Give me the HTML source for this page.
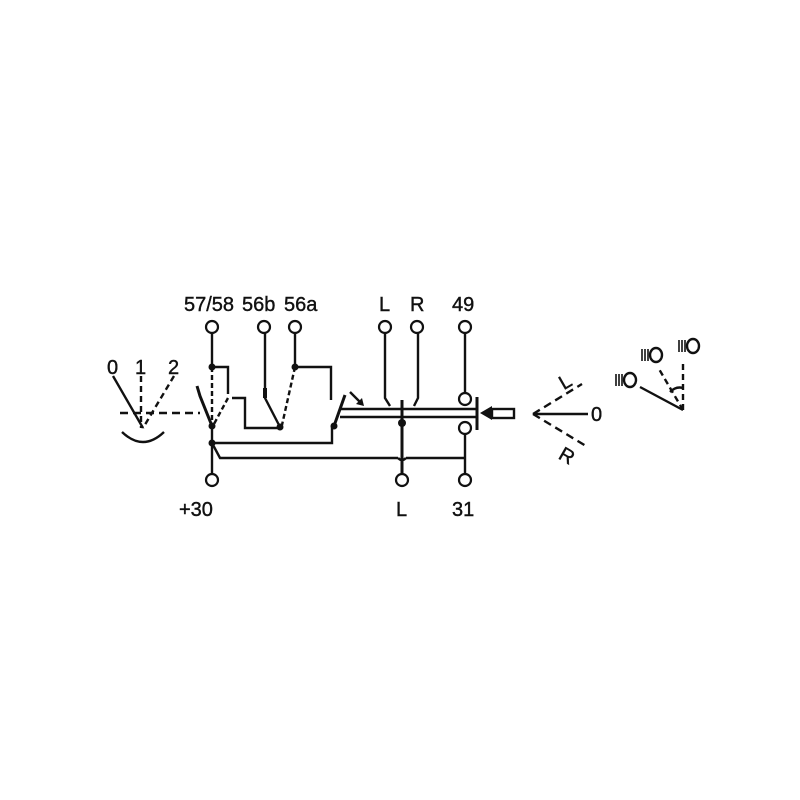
<!DOCTYPE html>
<html><head><meta charset="utf-8"><style>body{margin:0;background:#fff}svg{display:block}text{font-family:"Liberation Sans",sans-serif;fill:#111;stroke:#111;stroke-width:0.4}</style></head><body>
<svg width="800" height="800" viewBox="0 0 800 800" xmlns="http://www.w3.org/2000/svg">
<g stroke="#111" stroke-width="2.4" fill="none">
<line x1="113" y1="376" x2="143" y2="428"/>
<line x1="141" y1="376" x2="141" y2="428" stroke-dasharray="6,4"/>
<line x1="174" y1="376" x2="143" y2="428" stroke-dasharray="6,4"/>
<line x1="120" y1="413" x2="200" y2="413" stroke-dasharray="8,5"/>
<path d="M122 432 Q143 452 164 432"/>
<line x1="212" y1="333" x2="212" y2="367"/>
<line x1="212" y1="367" x2="212" y2="425" stroke-dasharray="5,3"/>
<polyline points="212,367 228,367 228,394"/>
<line x1="228" y1="398" x2="214" y2="424" stroke-dasharray="5,3"/>
<polyline points="197,386 200,396 212,426" stroke-width="3"/>
<polyline points="232,398 245,398 245,428 280,428"/>
<polyline points="265,333 265,398 280,427"/>
<line x1="265" y1="388" x2="265" y2="398" stroke-width="4"/>
<line x1="295" y1="333" x2="295" y2="367"/>
<line x1="295" y1="367" x2="282" y2="425" stroke-dasharray="5,3"/>
<polyline points="295,367 331,367 331,400"/>
<line x1="334" y1="426" x2="345" y2="395" stroke-width="3"/>
<line x1="350" y1="392" x2="361" y2="403"/>
<polyline points="212,443 332,443 332,426"/>
<line x1="212" y1="426" x2="212" y2="475"/>
<polyline points="212,443 220,458 398,458"/>
<path d="M398 458 q4 4 8 0"/>
<polyline points="406,458 465,458"/>
<line x1="340" y1="409" x2="477" y2="409"/>
<line x1="340" y1="417" x2="477" y2="417"/>
<polyline points="385,333 385,398 390,406"/>
<polyline points="418,333 418,398 414,406"/>
<line x1="402" y1="400" x2="402" y2="475" stroke-width="3"/>
<line x1="465" y1="333" x2="465" y2="393"/>
<line x1="465" y1="434" x2="465" y2="474"/>
<line x1="477" y1="397" x2="477" y2="430" stroke-width="3"/>
<rect x="492" y="409" width="22" height="9"/>
<line x1="533" y1="414" x2="588" y2="414"/>
<line x1="533" y1="414" x2="582" y2="384" stroke-dasharray="8,5"/>
<line x1="533" y1="414" x2="586" y2="446" stroke-dasharray="8,5"/>
<line x1="683" y1="410" x2="640" y2="387"/>
<line x1="683" y1="410" x2="659" y2="369" stroke-dasharray="6,4"/>
<line x1="683" y1="410" x2="683" y2="363" stroke-dasharray="6,4"/>
<path d="M670 392 q6 -6 13 -4"/>
<ellipse cx="630" cy="380" rx="6" ry="7"/>
<ellipse cx="656" cy="355" rx="6" ry="7"/>
<ellipse cx="693" cy="346" rx="6" ry="7"/>
</g>
<g stroke="#111" stroke-width="1.6">
<path d="M616 374v12M619 374v12M622 374v12"/>
<path d="M642 349v12M645 349v12M648 349v12"/>
<path d="M679 340v12M682 340v12M685 340v12"/>
</g>
<polygon points="480,413 492,406 492,420" fill="#111"/>
<polygon points="364,406 356,404 362,398" fill="#111"/>
<g fill="#111">
<circle cx="212" cy="367" r="3.5"/><circle cx="212" cy="426" r="3.5"/><circle cx="212" cy="443" r="3.5"/>
<circle cx="280" cy="427" r="3.5"/><circle cx="295" cy="367" r="3.5"/><circle cx="334" cy="426" r="3.5"/>
<circle cx="402" cy="423" r="4"/>
</g>
<g fill="#fff" stroke="#111" stroke-width="2.2">
<circle cx="212" cy="327" r="6"/><circle cx="264" cy="327" r="6"/><circle cx="295" cy="327" r="6"/>
<circle cx="385" cy="327" r="6"/><circle cx="417" cy="327" r="6"/><circle cx="465" cy="327" r="6"/>
<circle cx="465" cy="399" r="6"/><circle cx="465" cy="428" r="6"/>
<circle cx="212" cy="480" r="6"/><circle cx="402" cy="480" r="6"/><circle cx="465" cy="480" r="6"/>
</g>
<g font-size="20">
<text x="184" y="311">57/58</text><text x="242" y="311">56b</text><text x="284" y="311">56a</text>
<text x="379" y="311">L</text><text x="410" y="311">R</text><text x="452" y="311">49</text>
<text x="179" y="516">+30</text><text x="396" y="516">L</text><text x="452" y="516">31</text>
<text x="107" y="374">0</text><text x="135" y="374">1</text><text x="168" y="374">2</text>
<text x="591" y="421">0</text>
<text x="560" y="388" transform="rotate(-30 566 382)">L</text>
<text x="560" y="462" transform="rotate(30 566 455)">R</text>
</g>
</svg>
</body></html>
